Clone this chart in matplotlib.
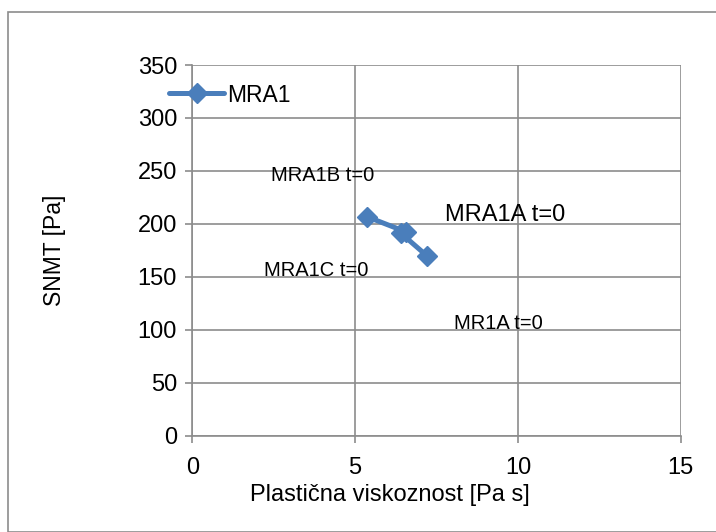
import matplotlib
matplotlib.use("Agg")
import matplotlib.pyplot as plt
from matplotlib.patches import Rectangle

plt.rcParams['font.family'] = ['Liberation Sans', 'DejaVu Sans']

# Data
series_name = "MRA1"
x_vals = [5.36, 6.55, 6.41, 7.20]
y_vals = [206.8, 192.6, 191.1, 170.0]
label_texts = ["MRA1B t=0", "MRA1A t=0", "MRA1C t=0", "MR1A t=0"]
label_x = [4.0, 9.6, 3.8, 9.4]
label_y = [246, 208, 156, 106]
x_ticks = [0, 5, 10, 15]
y_ticks = [0, 50, 100, 150, 200, 250, 300, 350]

# style
label_sizes = [14.5, 17.0, 14.5, 14.5]

W, H = 716, 532
fig = plt.figure(figsize=(W / 100, H / 100), dpi=100)
ax = fig.add_axes([192.3 / W, 1 - 435.7 / H, (680.7 - 192.3) / W, (435.7 - 65) / H])

color = '#4A7EBB'
grid_c = '#8C8C8C'

ax.plot(x_vals, y_vals, color=color, lw=3.6, marker='D', ms=10,
        markeredgecolor=color, markerfacecolor=color, label=series_name, zorder=3,
        solid_capstyle='round')

for t, lx, ly, fs in zip(label_texts, label_x, label_y, label_sizes):
    ax.text(lx, ly, t, ha='center', va='center', fontsize=fs, color='black', zorder=4)

ax.set_xlim(0, 15)
ax.set_ylim(0, 350)
ax.set_xticks(x_ticks)
ax.set_yticks(y_ticks)
ax.tick_params(axis='both', labelsize=17, color=grid_c, length=5, width=1.2, direction='out')
ax.tick_params(axis='y', pad=6)
ax.tick_params(axis='x', pad=10)
ax.grid(True, color=grid_c, lw=1.2)
ax.set_axisbelow(True)
for s in ['top', 'right']:
    ax.spines[s].set_visible(False)
for s in ['left', 'bottom']:
    ax.spines[s].set_color(grid_c)
    ax.spines[s].set_linewidth(1.2)

ax.set_xlabel("Plastična viskoznost [Pa s]", fontsize=17, va='center', ha='center')
ax.xaxis.set_label_coords((390 - 192.3) / 488.4, -(495 - 435.7) / 370.7)
ax.set_ylabel("SNMT [Pa]", fontsize=16.5, va='center', ha='center')
ax.yaxis.set_label_coords(-(192.3 - 54) / 488.4, 0.5)

leg = fig.legend(loc='center left', bbox_to_anchor=(160 / W, 1 - 95 / H), frameon=False,
                 fontsize=16.5, handlelength=2.4, handletextpad=0.15, borderaxespad=0)

fig.patches.append(Rectangle((8 / W, 0), 1.5, 1 - 12 / H, transform=fig.transFigure,
                             fill=False, edgecolor='#8C8C8C', lw=1.2))

fig.savefig("out.png", dpi=100)
